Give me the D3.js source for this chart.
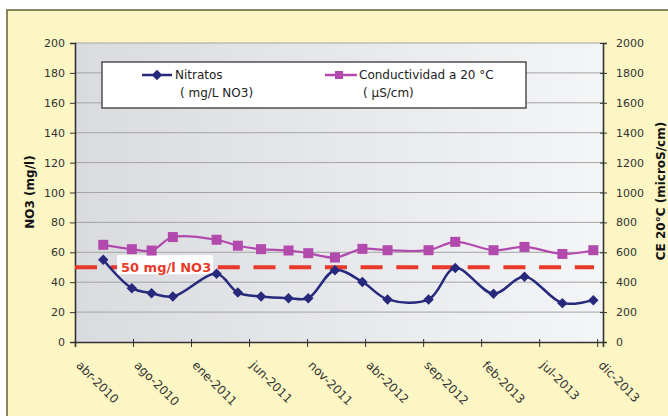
<!DOCTYPE html>
<html><head><meta charset="utf-8">
<script src="https://cdn.jsdelivr.net/npm/d3@7"></script>
<style>
html,body{margin:0;padding:0;background:#fff;}
svg{display:block;font-family:"DejaVu Sans",Verdana,sans-serif;}
</style></head>
<body>
<svg id="chart" width="668" height="416"></svg>
<script>
// ---- data ----
const dates = ["2010-06-13","2010-08-26","2010-10-16","2010-12-10","2011-04-02","2011-05-27",
  "2011-07-26","2011-10-05","2011-11-25","2012-02-02","2012-04-13","2012-06-17",
  "2012-10-01","2012-12-09","2013-03-18","2013-06-06","2013-09-12","2013-12-01"];
const nitratos = [55, 36, 32.6, 30.4, 45.6, 33.1, 30.4, 29.3, 29.3, 48, 40.2, 28.5, 28.5, 49.5, 32.3, 43.6, 26, 28];
const conductividad = [650, 621, 612, 702, 684, 644, 621, 612, 594, 565, 623, 614, 614, 670, 614, 636, 589, 614];
const tickDates = ["2010-04-01","2010-08-29","2011-01-26","2011-06-25","2011-11-22",
  "2012-04-20","2012-09-17","2013-02-14","2013-07-14","2013-12-11"];
const tickLabels = ["abr-2010","ago-2010","ene-2011","jun-2011","nov-2011",
  "abr-2012","sep-2012","feb-2013","jul-2013","dic-2013"];
const leftTicks = [0,20,40,60,80,100,120,140,160,180,200];
const rightTicks = [0,200,400,600,800,1000,1200,1400,1600,1800,2000];
const limitValue = 50;
const domainDates = ["2010-04-01","2013-12-26"];

// ---- layout ----
const svg = d3.select("#chart");
const L = 75, R = 603, T = 43, B = 342;
const parse = d3.utcParse("%Y-%m-%d");
const x = d3.scaleUtc().domain(domainDates.map(parse)).range([L, R]);
const y = d3.scaleLinear().domain([0, 200]).range([B, T]);
const y2 = d3.scaleLinear().domain([0, 2000]).range([B, T]);

const blue = "#272a7c", pink = "#b24aae", red = "#e8392a";

// frame
svg.append("rect").attr("x", 7).attr("y", 10).attr("width", 670).attr("height", 420)
  .attr("fill", "#fbf6c4").attr("stroke", "#6d6640").attr("stroke-width", 1.6);

// plot gradient
const defs = svg.append("defs");
const g = defs.append("linearGradient").attr("id", "bg").attr("x1", "0").attr("x2", "1").attr("y1", "0").attr("y2", "0");
g.append("stop").attr("offset", "0").attr("stop-color", "#d9dbdf");
g.append("stop").attr("offset", "1").attr("stop-color", "#f4f5f7");
svg.append("rect").attr("x", L).attr("y", T).attr("width", R - L).attr("height", B - T).attr("fill", "url(#bg)");

// grid
svg.append("g").selectAll("line").data(leftTicks.filter(d => d > 0)).join("line")
  .attr("x1", L).attr("x2", R).attr("y1", d => y(d)).attr("y2", d => y(d))
  .attr("stroke", "#a4a4a4").attr("stroke-width", 1);

// left axis
const axL = svg.append("g").attr("transform", `translate(${L},0)`)
  .call(d3.axisLeft(y).tickValues(leftTicks).tickSize(5).tickPadding(5).tickFormat(d3.format("d")));
axL.select(".domain").attr("stroke", "#333").attr("stroke-width", 1.6);
axL.selectAll(".tick line").attr("stroke", "#333");
axL.selectAll("text").attr("font-size", 11).attr("fill", "#333").attr("font-family", "DejaVu Sans");

// right axis
const axR = svg.append("g").attr("transform", `translate(${R},0)`)
  .call(d3.axisRight(y2).tickValues(rightTicks).tickSize(4).tickPadding(9).tickFormat(d3.format("d")));
axR.select(".domain").attr("stroke", "#333").attr("stroke-width", 1.6);
axR.selectAll(".tick line").attr("stroke", "#333").attr("x1", -3);
axR.selectAll("text").attr("font-size", 11).attr("fill", "#333").attr("font-family", "DejaVu Sans");

// bottom axis
const axB = svg.append("g").attr("transform", `translate(0,${B})`)
  .call(d3.axisBottom(x).tickValues(tickDates.map(parse)).tickSize(5).tickFormat((d, i) => tickLabels[i]));
axB.select(".domain").attr("stroke", "#333").attr("stroke-width", 1.6);
axB.selectAll(".tick line").attr("stroke", "#333").attr("y1", -3);
axB.selectAll("text").attr("font-size", 12).attr("fill", "#333").attr("font-family", "DejaVu Sans")
  .attr("text-anchor", "start").attr("y", 0).attr("dy", "0.71em")
  .attr("transform", "translate(6,18) rotate(45)");

// limit line
svg.append("line").attr("x1", L).attr("x2", 594).attr("y1", y(limitValue)).attr("y2", y(limitValue))
  .attr("stroke", red).attr("stroke-width", 4).attr("stroke-dasharray", "22,13.7");
svg.append("rect").attr("x", 117).attr("y", y(limitValue) - 12).attr("width", 96).attr("height", 19).attr("fill", "#fff");
svg.append("text").attr("x", 121).attr("y", y(limitValue) + 1).attr("dominant-baseline", "middle")
  .attr("fill", red).attr("font-weight", "bold").attr("font-size", 13).attr("font-family", "DejaVu Sans")
  .text("50 mg/l NO3");

// series
const pts1 = dates.map((d, i) => [x(parse(d)), y(nitratos[i])]);
const pts2 = dates.map((d, i) => [x(parse(d)), y2(conductividad[i])]);
const line = d3.line().curve(d3.curveCatmullRom.alpha(0.5));
svg.append("path").attr("d", line(pts2)).attr("fill", "none").attr("stroke", pink).attr("stroke-width", 2.2);
svg.append("g").selectAll("rect").data(pts2).join("rect")
  .attr("x", d => d[0] - 5).attr("y", d => d[1] - 5).attr("width", 10).attr("height", 10).attr("fill", pink);
svg.append("path").attr("d", line(pts1)).attr("fill", "none").attr("stroke", blue).attr("stroke-width", 2.5);
const diamond = d3.symbol().type(d3.symbolDiamond2).size(70);
svg.append("g").selectAll("path").data(pts1).join("path")
  .attr("d", diamond).attr("transform", d => `translate(${d[0]},${d[1]})`).attr("fill", blue);

// legend
svg.append("rect").attr("x", 102).attr("y", 62).attr("width", 424).attr("height", 46)
  .attr("fill", "#fff").attr("stroke", "#444").attr("stroke-width", 1.4);
svg.append("line").attr("x1", 142).attr("x2", 172).attr("y1", 75).attr("y2", 75).attr("stroke", blue).attr("stroke-width", 2.5);
svg.append("path").attr("d", diamond).attr("transform", "translate(157,75)").attr("fill", blue);
svg.append("line").attr("x1", 325).attr("x2", 357).attr("y1", 75).attr("y2", 75).attr("stroke", pink).attr("stroke-width", 2.5);
svg.append("rect").attr("x", 335).attr("y", 71).attr("width", 8).attr("height", 8).attr("fill", pink);
const legText = [["Nitratos", 175, 79], ["( mg/L NO3)", 180, 97], ["Conductividad a 20 °C", 359, 79], ["( µS/cm)", 363, 97]];
svg.append("g").selectAll("text").data(legText).join("text")
  .attr("x", d => d[1]).attr("y", d => d[2]).text(d => d[0])
  .attr("font-size", 12).attr("fill", "#222").attr("font-family", "DejaVu Sans");

// axis titles
svg.append("text").attr("transform", "translate(34,192) rotate(-90)").attr("text-anchor", "middle")
  .attr("font-weight", "bold").attr("font-size", 12).attr("fill", "#111").text("NO3 (mg/l)");
svg.append("text").attr("transform", "translate(665,191) rotate(-90)").attr("text-anchor", "middle")
  .attr("font-weight", "bold").attr("font-size", 12).attr("fill", "#111").text("CE 20°C (microS/cm)");
</script>
</body></html>
